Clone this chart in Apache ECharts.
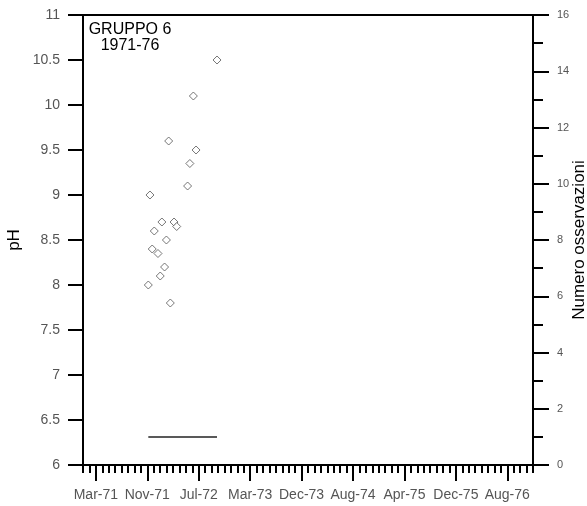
<!DOCTYPE html>
<html>
<head>
<meta charset="utf-8">
<script src="https://cdn.jsdelivr.net/npm/echarts@6/dist/echarts.min.js"></script>
<style>html,body{margin:0;padding:0;background:#fff;}#c{width:587px;height:506px;}</style>
</head>
<body>
<div id="c"></div>
<script>
// ---- data ----
const phDates = ['1971-11-18','1971-11-26','1971-12-07','1971-12-17','1972-01-04','1972-01-15','1972-01-23','1972-02-05','1972-02-14','1972-02-25','1972-03-04','1972-03-22','1972-04-04','1972-05-27','1972-06-07','1972-06-24','1972-07-07','1972-10-17'];
const phValues = [8.0, 9.0, 8.4, 8.6, 8.35, 8.1, 8.7, 8.2, 8.5, 9.6, 7.8, 8.7, 8.65, 9.1, 9.35, 10.1, 9.5, 10.5];
const obsDates = ['1971-11-18','1972-10-17'];
const obsCounts = [1, 1];
const xTickLabels = ['Mar-71','Nov-71','Jul-72','Mar-73','Dec-73','Aug-74','Apr-75','Dec-75','Aug-76'];
const xTickDates = ['1971-03-08','1971-11-13','1972-07-20','1973-03-27','1973-12-02','1974-08-09','1975-04-16','1975-12-22','1976-08-28'];
const titleLines = ['GRUPPO 6', '1971-76'];

// ---- helpers ----
const refDate = Date.UTC(1971, 2, 8);
function toDays(s) {
  const p = s.split('-').map(Number);
  return Math.round((Date.UTC(p[0], p[1] - 1, p[2]) - refDate) / 86400000);
}
const xMin = -62.5, xMax = 2125; // days relative to reference (axis ends fall on minor ticks)
const majorVals = xTickDates.map(toDays);
const minorInterval = 31.25;

const chart = echarts.init(document.getElementById('c'), null, {renderer: 'canvas'});
const black = '#000';
const labelGray = '#555';
const font = 'Liberation Sans, Arial';
chart.setOption({
  animation: false,
  backgroundColor: '#fff',
  title: {
    text: titleLines.join('\n'),
    left: 125, top: 17, textAlign: 'center',
    textStyle: {fontFamily: font, fontSize: 16, fontWeight: 'normal', color: '#000', lineHeight: 16}
  },
  grid: {left: 83, right: 54, top: 15, bottom: 41, show: true, borderColor: black, borderWidth: 2, containLabel: false, outerBoundsMode: 'none'},
  xAxis: [
    {
      type: 'value', min: xMin, max: xMax, position: 'bottom',
      axisLine: {show: true, onZero: false, lineStyle: {color: black, width: 2}},
      axisTick: {show: true, customValues: majorVals, length: 16, lineStyle: {color: black, width: 2}},
      axisLabel: {show: true, customValues: majorVals, margin: 23, color: labelGray, fontSize: 14, fontFamily: font,
        formatter: function (v) { const i = majorVals.indexOf(Math.round(v)); return i >= 0 ? xTickLabels[i] : ''; }},
      splitLine: {show: false}
    },
    {
      type: 'value', min: xMin, max: xMax, interval: minorInterval, position: 'bottom',
      axisLine: {show: false, onZero: false},
      axisTick: {show: true, length: 8, lineStyle: {color: black, width: 2}},
      axisLabel: {show: false},
      splitLine: {show: false}
    }
  ],
  yAxis: [
    {
      type: 'value', min: 6, max: 11, interval: 0.5, position: 'left',
      name: 'pH', nameLocation: 'middle', nameGap: 60, nameRotate: 90, nameMoveOverlap: false,
      nameTextStyle: {fontSize: 17, color: '#000', fontFamily: font},
      axisLine: {show: true, onZero: false, lineStyle: {color: black, width: 2}},
      axisTick: {show: true, length: 15, lineStyle: {color: black, width: 2}},
      axisLabel: {margin: 23, color: labelGray, fontSize: 14, fontFamily: font},
      splitLine: {show: false}
    },
    {
      type: 'value', min: 0, max: 16, interval: 2, position: 'right',
      name: 'Numero osservazioni', nameLocation: 'middle', nameGap: 38, nameRotate: 90, nameMoveOverlap: false,
      nameTextStyle: {fontSize: 17, color: '#000', fontFamily: font},
      axisLine: {show: true, onZero: false, lineStyle: {color: black, width: 2}},
      axisTick: {show: true, length: 16, lineStyle: {color: black, width: 2}},
      minorTick: {show: true, splitNumber: 2, length: 10, lineStyle: {color: black, width: 2}},
      axisLabel: {margin: 24, color: labelGray, fontSize: 11, fontFamily: font},
      splitLine: {show: false}
    }
  ],
  series: [
    {
      type: 'scatter', xAxisIndex: 0, yAxisIndex: 0,
      symbol: 'diamond', symbolSize: 8,
      itemStyle: {color: '#fff', borderColor: '#555', borderWidth: 1},
      data: phDates.map((d, i) => [toDays(d), phValues[i]])
    },
    {
      type: 'line', xAxisIndex: 0, yAxisIndex: 1,
      showSymbol: false, symbol: 'none',
      lineStyle: {color: '#222', width: 1.5},
      data: obsDates.map((d, i) => [toDays(d), obsCounts[i]])
    }
  ]
});
</script>
</body>
</html>
